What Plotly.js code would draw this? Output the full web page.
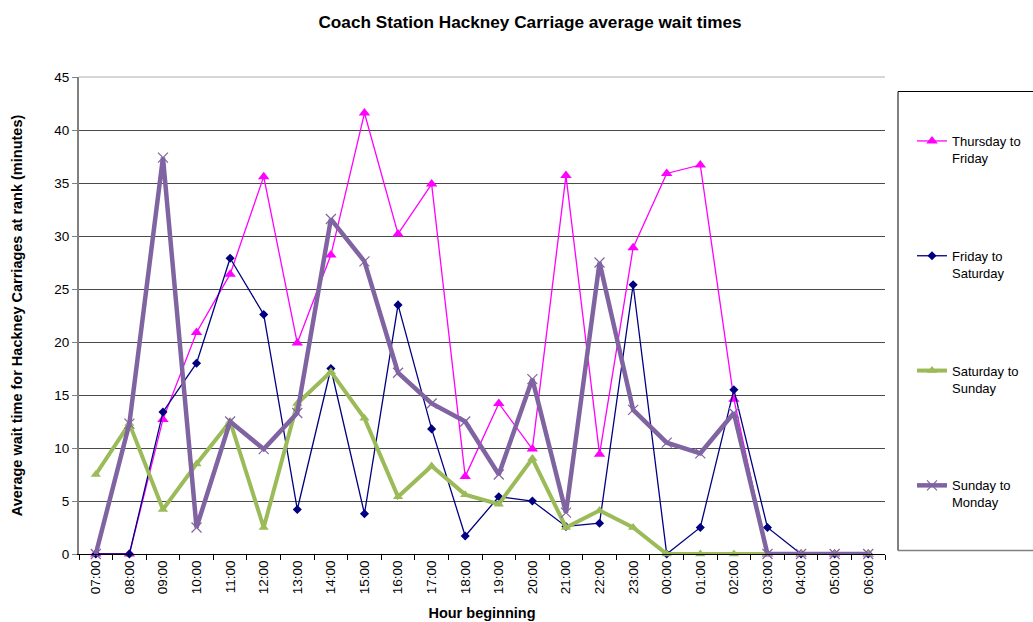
<!DOCTYPE html>
<html>
<head>
<meta charset="utf-8">
<script src="https://cdn.plot.ly/plotly-3.0.1.min.js"></script>
<style>html,body{margin:0;padding:0;background:#fff;}#chart{width:1033px;height:622px;}</style>
</head>
<body>
<div id="chart"></div>
<script>
const hours = ["07:00","08:00","09:00","10:00","11:00","12:00","13:00","14:00","15:00","16:00","17:00","18:00","19:00","20:00","21:00","22:00","23:00","00:00","01:00","02:00","03:00","04:00","05:00","06:00"];
const thuFri = [0, 0, 12.7, 20.9, 26.4, 35.6, 19.9, 28.2, 41.6, 30.2, 34.9, 7.3, 14.2, 9.9, 35.7, 9.4, 28.9, 35.9, 36.7, 14.6, 0, 0, 0, 0];
const friSat = [0, 0, 13.4, 18.0, 27.9, 22.6, 4.2, 17.5, 3.8, 23.5, 11.8, 1.7, 5.4, 5.0, 2.6, 2.9, 25.4, 0, 2.5, 15.5, 2.5, 0, 0, 0];
const satSun = [7.5, 12.3, 4.2, 8.5, 12.5, 2.5, 14.2, 17.2, 12.8, 5.4, 8.3, 5.6, 4.7, 9.0, 2.5, 4.1, 2.5, 0, 0, 0, 0, 0, 0, 0];
const sunMon = [0, 12.3, 37.4, 2.5, 12.5, 9.9, 13.3, 31.6, 27.6, 17.1, 14.2, 12.5, 7.5, 16.5, 3.9, 27.5, 13.6, 10.5, 9.5, 13.3, 0, 0, 0, 0];

const names = ["Thursday to<br>Friday", "Friday to<br>Saturday", "Saturday to<br>Sunday", "Sunday to<br>Monday"];

const FONT = "Liberation Sans, Arial, sans-serif";

const traces = [
  {x: hours, y: thuFri, name: names[0], legendgroup: "a", type: "scatter", mode: "lines+markers",
   line: {color: "#FF00FF", width: 1.3},
   marker: {symbol: "triangle-up", size: 10, color: "#FF00FF"}, cliponaxis: false},
  {x: hours, y: friSat, name: names[1], legendgroup: "b", type: "scatter", mode: "lines+markers",
   line: {color: "#000080", width: 1.3},
   marker: {symbol: "diamond", size: 7, color: "#000080"}, cliponaxis: false},
  {x: hours, y: satSun, name: names[2], legendgroup: "c", type: "scatter", mode: "lines+markers",
   line: {color: "#9BBB59", width: 4},
   marker: {symbol: "triangle-up", size: 9, color: "#9BBB59"}, cliponaxis: false},
  {x: hours, y: sunMon, name: names[3], legendgroup: "d", type: "scatter", mode: "lines+markers",
   line: {color: "#8064A2", width: 4.5},
   marker: {symbol: "x-thin-open", size: 10, color: "#8064A2", line: {color: "#8064A2", width: 1.2}}, cliponaxis: false}
];

const L = 79, R = 885, T = 77, B = 554;
const W = 1033, H = 622;
const px = (x) => (x - L) / (R - L);
const py = (y) => (B - y) / (B - T);

const layout = {
  width: W, height: H,
  margin: {l: L, r: W - R, t: T, b: H - B, pad: 0},
  paper_bgcolor: "#ffffff", plot_bgcolor: "#ffffff",
  font: {family: FONT, size: 13, color: "#000"},
  title: {text: "Coach Station Hackney Carriage average wait times",
          font: {family: FONT, size: 17.2, weight: "bold", color: "#000"},
          x: 530 / W, xref: "container", xanchor: "center",
          y: 1 - 22 / H, yref: "container", yanchor: "middle"},
  xaxis: {
    type: "category", categoryorder: "array", categoryarray: hours,
    range: [-0.5, hours.length - 0.5], autorange: false,
    tickangle: -90, tickson: "boundaries", ticks: "outside", ticklen: 5, tickcolor: "#000", tickwidth: 1,
    showline: true, linecolor: "#000", linewidth: 1,
    showgrid: false, zeroline: false,
    tickfont: {family: FONT, size: 13.5, color: "#000"},
    title: {text: "Hour beginning", font: {family: FONT, size: 14.5, weight: "bold", color: "#000"}, standoff: 14},
    automargin: false, fixedrange: true
  },
  yaxis: {
    range: [0, 45], dtick: 5, tick0: 0, autorange: false,
    ticks: "outside", ticklen: 5, tickcolor: "#808080", tickwidth: 1,
    showline: true, linecolor: "#808080", linewidth: 2,
    showgrid: true, gridcolor: "#4a4a4a", gridwidth: 1,
    zeroline: false,
    tickfont: {family: FONT, size: 13.5, color: "#000"},
    title: {text: "Average wait time for Hackney Carriages at rank (minutes)",
            font: {family: FONT, size: 14.5, weight: "bold", color: "#000"}, standoff: 28},
    automargin: false, fixedrange: true
  },
  showlegend: true,
  legend: {
    xref: "container", yref: "container",
    x: 912 / W, xanchor: "left", y: 1 - 126 / H, yanchor: "top",
    traceorder: "grouped", tracegroupgap: 78, valign: "top",
    maxheight: 600,
    bgcolor: "rgba(0,0,0,0)", borderwidth: 0,
    font: {family: FONT, size: 13, color: "#000"},
    itemwidth: 30
  },
  shapes: [
    {type: "line", xref: "paper", yref: "paper", x0: 0, x1: 1, y0: 1, y1: 1, line: {color: "#c8c8c8", width: 1.5}},
    {type: "line", xref: "paper", yref: "paper", x0: px(898), x1: px(898), y0: py(91.5), y1: py(550.5), line: {color: "#000", width: 1}},
    {type: "line", xref: "paper", yref: "paper", x0: px(898), x1: px(1040), y0: py(91.5), y1: py(91.5), line: {color: "#000", width: 1}},
    {type: "line", xref: "paper", yref: "paper", x0: px(898), x1: px(1040), y0: py(550.5), y1: py(550.5), line: {color: "#808080", width: 1.5}}
  ]
};

Plotly.newPlot("chart", traces, layout, {displayModeBar: false, staticPlot: true});
</script>
</body>
</html>
